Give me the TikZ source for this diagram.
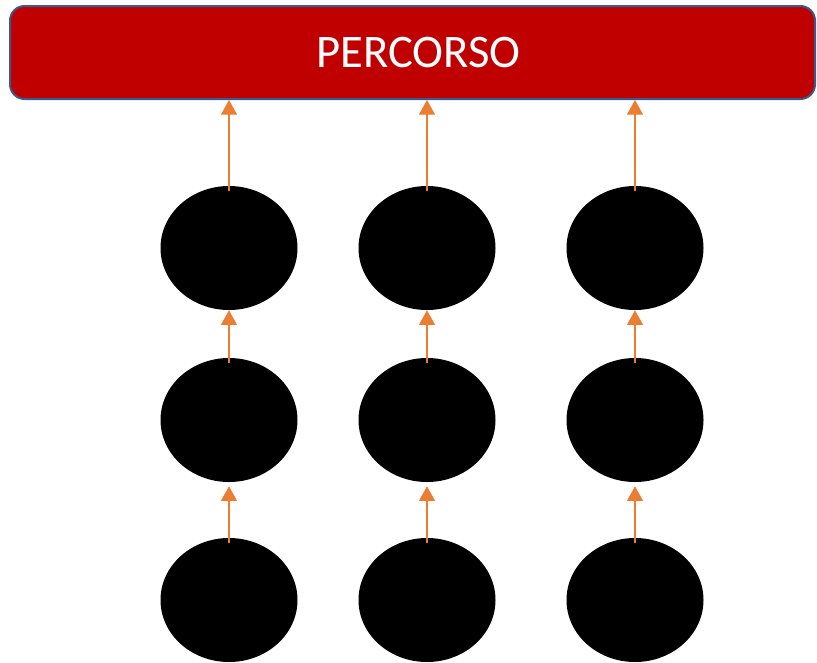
\documentclass[tikz,border=0pt]{standalone}
\usepackage{fontspec}
\setmainfont{Carlito}
\usetikzlibrary{shapes.geometric,arrows.meta}
\definecolor{barred}{HTML}{C00000}
\definecolor{barblue}{HTML}{3A5A8C}
\definecolor{flowor}{HTML}{ED7D31}
\tikzset{
    blob/.style={ellipse, fill=black, inner sep=0pt, minimum width=102.75pt, minimum height=93pt},
    flow/.style={flowor, line width=0.9pt, -{Triangle[width=12pt,length=11pt]}}
}
\begin{document}
\begin{tikzpicture}[x=0.75pt,y=0.75pt]

            \useasboundingbox (0,0) rectangle (817,-662);

            \node[rounded corners=11pt, fill=barred, draw=barblue, line width=1.5pt,
                  minimum width=603.75pt, minimum height=69.75pt] (bar) at (412.5,-52.5) {};
            \node[text=white, font=\fontsize{35}{42}\selectfont] (title) at (418.5,-53) {PERCORSO};

            \foreach \i/\x in {1/229, 2/427, 3/635} {
                \node[blob] (t\i) at (\x,-248) {};
                \node[blob] (m\i) at (\x,-420) {};
                \node[blob] (b\i) at (\x,-600) {};
            }

            \foreach \i in {1,2,3} {
                \draw[flow] ([yshift=-4pt]t\i.north) -- (t\i.north |- bar.south);
                \draw[flow] ([yshift=-4pt]m\i.north) -- (t\i.south);
                \draw[flow] ([yshift=-4pt]b\i.north) -- ([yshift=-3pt]m\i.south);
            }

        \end{tikzpicture}
\end{document}
